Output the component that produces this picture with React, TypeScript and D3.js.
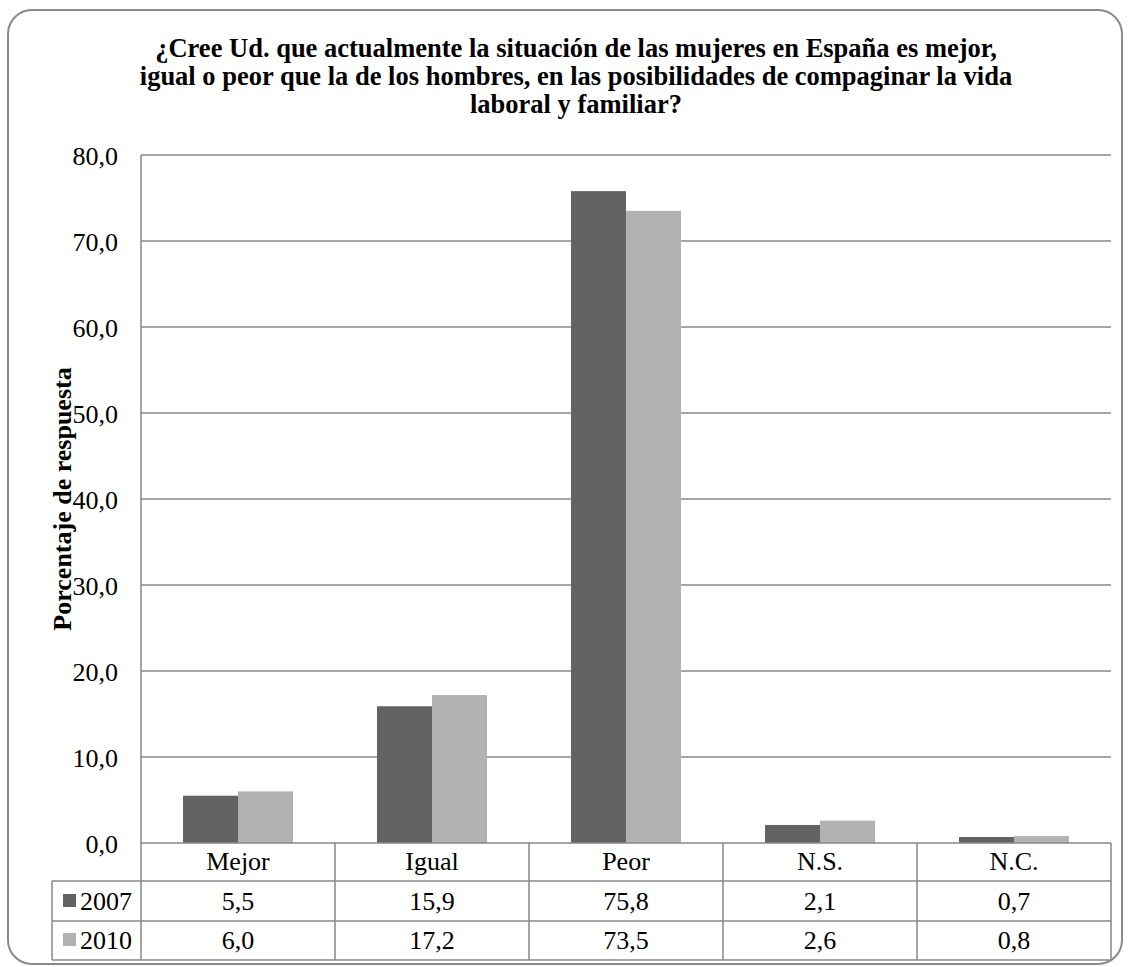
import React from "react";
import * as d3 from "d3";

const categories = ["Mejor", "Igual", "Peor", "N.S.", "N.C."];
const series = ["2007", "2010"];
const values2007 = [5.5, 15.9, 75.8, 2.1, 0.7];
const values2010 = [6.0, 17.2, 73.5, 2.6, 0.8];
const yTicks = [0, 10, 20, 30, 40, 50, 60, 70, 80];
const titleLines = [
  "¿Cree Ud. que actualmente la situación de las mujeres en España es mejor,",
  "igual o peor que la de los hombres, en las posibilidades de compaginar la vida",
  "laboral y familiar?",
];
const colors = ["#636363", "#b2b2b2"];

const fmt = (v: number) => v.toFixed(1).replace(".", ",");

export default function App() {
  const W = 1130, H = 967;
  const left = 141, right = 1111, top = 155, bottom = 843;
  const x = d3.scaleBand<string>().domain(categories).range([left, right]);
  const y = d3.scaleLinear().domain([0, 80]).range([bottom, top]);
  const inner = d3.scaleBand<string>().domain(series).range([0, 110]);
  const groupOffset = (x.bandwidth() - 110) / 2;
  const data = [values2007, values2010];
  const rowY = [843, 881, 921, 960];
  const textY = [870, 910, 949];
  const tableLeft = 52;
  const font = '"Liberation Serif", "Times New Roman", Times, serif';
  const grid = "#878787";
  const fs = 26;

  return (
    <svg width={W} height={H} style={{ position: "absolute", left: 0, top: 0, fontFamily: font }}>
      <rect x={8} y={10} width={1114} height={954} rx={24} ry={24} fill="white" stroke="#8a8a8a" strokeWidth={2} />
      {titleLines.map((t, i) => (
        <text key={i} x={576} y={57 + i * 28} textAnchor="middle" fontSize={26.5} fontWeight="bold">{t}</text>
      ))}
      {yTicks.map((t) => (
        <g key={t}>
          {t > 0 && <line x1={left} x2={right} y1={y(t)} y2={y(t)} stroke={grid} strokeWidth={1.5} />}
          <text x={118} y={y(t) + 10} textAnchor="end" fontSize={fs}>{fmt(t)}</text>
        </g>
      ))}
      <text transform={`translate(71,${(top + bottom) / 2}) rotate(-90)`} textAnchor="middle" fontSize={fs} fontWeight="bold">Porcentaje de respuesta</text>
      {categories.map((c, ci) => (
        <g key={c}>
          {series.map((s, si) => {
            const v = data[si][ci];
            return (
              <rect key={s} x={(x(c) as number) + groupOffset + (inner(s) as number)} y={y(v)} width={inner.bandwidth()} height={y(0) - y(v)} fill={colors[si]} />
            );
          })}
        </g>
      ))}
      <line x1={left} x2={left} y1={top} y2={rowY[3]} stroke={grid} strokeWidth={1.5} />
      <line x1={left} x2={right} y1={rowY[0]} y2={rowY[0]} stroke={grid} strokeWidth={1.5} />
      {rowY.slice(1).map((ry, i) => (
        <line key={i} x1={tableLeft} x2={right} y1={ry} y2={ry} stroke={grid} strokeWidth={1.5} />
      ))}
      <line x1={tableLeft} x2={tableLeft} y1={rowY[1]} y2={rowY[3]} stroke={grid} strokeWidth={1.5} />
      {categories.map((c) => (
        <line key={c} x1={(x(c) as number) + x.bandwidth()} x2={(x(c) as number) + x.bandwidth()} y1={rowY[0]} y2={rowY[3]} stroke={grid} strokeWidth={1.5} />
      ))}
      {categories.map((c) => (
        <text key={c} x={(x(c) as number) + x.bandwidth() / 2} y={textY[0]} textAnchor="middle" fontSize={fs}>{c}</text>
      ))}
      {series.map((s, si) => (
        <g key={s}>
          <rect x={63} y={textY[si + 1] - 16} width={13} height={13} fill={colors[si]} />
          <text x={80} y={textY[si + 1]} fontSize={fs}>{s}</text>
          {categories.map((c, ci) => (
            <text key={c} x={(x(c) as number) + x.bandwidth() / 2} y={textY[si + 1]} textAnchor="middle" fontSize={fs}>{fmt(data[si][ci])}</text>
          ))}
        </g>
      ))}
    </svg>
  );
}
